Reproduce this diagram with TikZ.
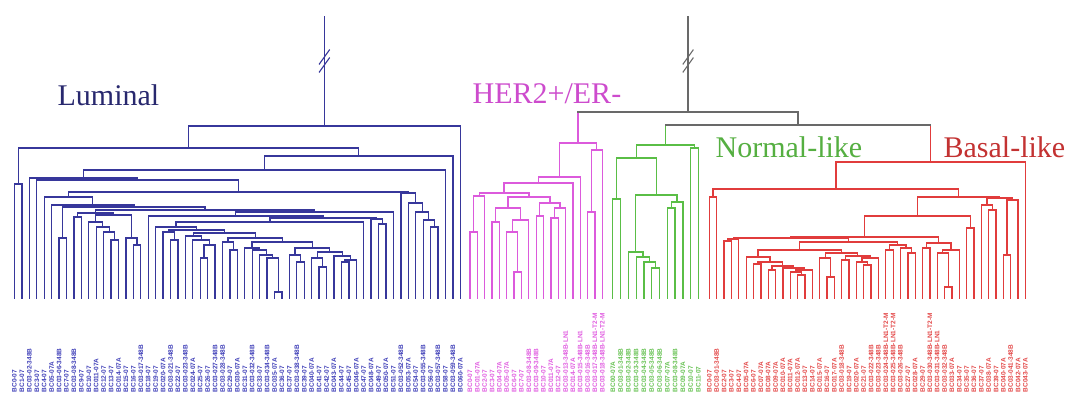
\documentclass[tikz,border=0pt]{standalone}
\usepackage{fontspec}
\setmainfont{Liberation Serif}
\newfontfamily\labfont{Liberation Sans}
\usetikzlibrary{calc}
\definecolor{cblue}{RGB}{55,55,155}
\definecolor{cbluet}{RGB}{40,40,110}
\definecolor{cbluel}{RGB}{65,65,185}
\definecolor{cmag}{RGB}{220,90,220}
\definecolor{cmagt}{RGB}{205,75,205}
\definecolor{cmagl}{RGB}{225,95,225}
\definecolor{cgreen}{RGB}{90,190,70}
\definecolor{cgreent}{RGB}{85,175,65}
\definecolor{cgreenl}{RGB}{105,195,85}
\definecolor{cred}{RGB}{225,60,60}
\definecolor{credt}{RGB}{195,50,50}
\definecolor{credl}{RGB}{228,75,75}
\definecolor{cgray}{RGB}{105,105,105}
\newcommand\mg[4]{%
  \coordinate (hh) at (0,#4);
  \draw (#2) -- (#2 |- hh) -- (#3 |- hh) -- (#3);
  \coordinate (#1) at ($(#2 |- hh)!.5!(#3 |- hh)$);
}
\newcommand\labs[1]{BC#1-07}
\newcommand\labm[1]{BC0#1-07A}
\newcommand\labl[1]{BC03-0#1-348B}
\newcommand\laby[1]{BC03-0#1-348B-LN1}
\newcommand\labx[1]{BC03-0#1-348B-LN1-T2-M}
\tikzset{
  lab/.style={rotate=90, anchor=west, inner sep=0pt, font=\labfont\bfseries\fontsize{6.5}{6.5}\selectfont},
  title/.style={anchor=base west, inner sep=0pt, font=\fontsize{30}{36}\selectfont},
  brk/.style={line width=1.1pt},
}
\begin{document}
\begin{tikzpicture}[x=1pt,y=-1pt,line width=1.3pt,line cap=rect]
\fill[white] (0,0) rectangle (1071,394);
\useasboundingbox (0,0) rectangle (1071,394);
\coordinate (h17) at (0,17);
\coordinate (h112) at (0,112);
\coordinate (h125) at (0,125);
% leaves
\foreach \i in {0,...,60} \coordinate (b\i) at ({14.5+7.43*\i},298);
\foreach \i in {0,...,18} \coordinate (m\i) at ({470+7.35*\i},298);
\foreach \i in {0,...,11} \coordinate (g\i) at ({612.8+7.79*\i},298);
\foreach \i in {0,...,43} \coordinate (r\i) at ({709.4+7.35*\i},298);
% ---------------- Luminal (blue)
\begin{scope}[color=cblue]
\mg{P0}{b0}{b1}{184}
\mg{H1}{b6}{b7}{238}
\mg{K1}{b8}{b9}{217}
\mg{K6b}{b13}{b14}{240}
\mg{K6}{b12}{K6b}{232}
\mg{K5}{b11}{K6}{227}
\mg{K3}{b10}{K5}{222}
\mg{K7}{b16}{b17}{245}
\mg{K4}{b15}{K7}{238}
\mg{K2}{K3}{K4}{215}
\mg{K}{K1}{K2}{213}
\mg{MzL2}{b21}{b22}{240}
\mg{MzL}{b20}{MzL2}{232}
\mg{Ra5}{b25}{b26}{258}
\mg{Ra4}{Ra5}{b27}{245}
\mg{Ra3}{b24}{Ra4}{240}
\mg{Ra1}{b23}{Ra3}{236}
\mg{Rb1b}{b29}{b30}{250}
\mg{Rb1}{b28}{Rb1b}{242}
\mg{Rc6}{b35}{b36}{292}
\mg{Rc5}{b34}{Rc6}{258}
\mg{Rc4}{b33}{Rc5}{255}
\mg{Rc3}{b32}{Rc4}{250}
\mg{Rc1}{b31}{Rc3}{248}
\mg{Rd3}{b38}{b39}{262}
\mg{Rd1}{b37}{Rd3}{255}
\mg{Rd6}{b41}{b42}{267}
\mg{Rd4}{b40}{Rd6}{258}
\mg{Rd8}{b44}{b45}{262}
\mg{Rd7}{Rd8}{b46}{260}
\mg{Rd5}{b43}{Rd7}{256}
\mg{Rd2}{Rd4}{Rd5}{252}
\mg{Rc2}{Rd1}{Rd2}{248}
\mg{Rb2}{Rc1}{Rc2}{242}
\mg{Ra2}{Rb1}{Rb2}{238}
\mg{MzR}{Ra1}{Ra2}{233}
\mg{Mz2}{MzL}{MzR}{230}
\mg{Mz1}{b19}{Mz2}{227}
\mg{Mz}{Mz1}{b47}{222}
\mg{Mq2}{b49}{b50}{224}
\mg{Mq}{b48}{Mq2}{219}
\mg{My}{Mz}{Mq}{218}
\mg{Mx}{b18}{My}{216}
\mg{M}{Mx}{b51}{212}
\mg{H2}{K}{M}{210}
\mg{H}{H1}{H2}{207}
\mg{F}{b5}{H}{205}
\mg{E}{b4}{F}{197}
\mg{Dr4}{b56}{b57}{227}
\mg{Dr3}{b55}{Dr4}{220}
\mg{Dr2}{b54}{Dr3}{212}
\mg{Dr1}{b53}{Dr2}{203}
\mg{Dr}{b52}{Dr1}{193}
\mg{D}{E}{Dr}{192}
\mg{G}{b3}{D}{180}
\mg{C}{b2}{G}{178}
\mg{B}{C}{b58}{170}
\mg{A2}{B}{b59}{156}
\mg{A}{P0}{A2}{148}
\mg{RootB}{A}{b60}{126}
\draw (RootB) -- (RootB |- h17);
\draw[brk] ($(RootB |- 0,57)+(-5,7)$) -- ($(RootB |- 0,57)+(5,-7)$);
\draw[brk] ($(RootB |- 0,65)+(-5,7)$) -- ($(RootB |- 0,65)+(5,-7)$);
\end{scope}
% ---------------- HER2 (magenta)
\begin{scope}[color=cmag]
\mg{Mg7}{m0}{m1}{232}
\mg{Mg5}{Mg7}{m2}{196}
\mg{Mg10}{m3}{m4}{222}
\mg{Mg12}{m6}{m7}{272}
\mg{Mg13}{m5}{Mg12}{232}
\mg{Mg11}{Mg13}{m8}{220}
\mg{Mg8}{Mg10}{Mg11}{208}
\mg{Mg14}{m9}{m10}{216}
\mg{Mg16}{m11}{m12}{218}
\mg{Mg15}{Mg16}{m13}{208}
\mg{Mg9}{Mg14}{Mg15}{203}
\mg{Mg6}{Mg8}{Mg9}{197}
\mg{Mg4}{Mg5}{Mg6}{193}
\mg{Mg3}{Mg4}{m14}{183}
\mg{Mg1}{Mg3}{m15}{177}
\mg{Mg2a}{m16}{m17}{212}
\mg{Mg2}{Mg2a}{m18}{150}
\mg{Mg}{Mg1}{Mg2}{143}
\draw (Mg) -- (Mg |- h112);
\end{scope}
% ---------------- Normal-like (green)
\begin{scope}[color=cgreen]
\mg{Gc}{g0}{g1}{199}
\mg{Gi}{g5}{g6}{268}
\mg{Gh}{g4}{Gi}{262}
\mg{Gg}{g3}{Gh}{257}
\mg{Ge}{g2}{Gg}{252}
\mg{Gj}{g7}{g8}{208}
\mg{Gf}{Gj}{g9}{202}
\mg{Gd}{Ge}{Gf}{195}
\mg{Ga}{Gc}{Gd}{158}
\mg{Gb}{g10}{g11}{148}
\mg{Gr}{Ga}{Gb}{145}
\draw (Gr) -- (Gr |- h125);
\end{scope}
% ---------------- Basal-like (red)
\begin{scope}[color=cred]
\mg{Rp}{r0}{r1}{197}
\mg{RtC1}{r2}{r3}{241}
\mg{RtC}{RtC1}{r4}{239}
\mg{RtG2}{r6}{r7}{264}
\mg{RtG4}{r8}{r9}{270}
\mg{RtG8}{r12}{r13}{275}
\mg{RtG7}{r11}{RtG8}{272}
\mg{RtG6}{RtG7}{r14}{270}
\mg{RtG5}{r10}{RtG6}{268}
\mg{RtG3}{RtG4}{RtG5}{266}
\mg{RtG1}{RtG2}{RtG3}{262}
\mg{RtG}{r5}{RtG1}{257}
\mg{RtH3}{r16}{r17}{277}
\mg{RtH1}{r15}{RtH3}{258}
\mg{RtH4}{r18}{r19}{260}
\mg{RtH7}{r21}{r22}{265}
\mg{RtH6}{r20}{RtH7}{262}
\mg{RtH5}{RtH6}{r23}{258}
\mg{RtH2}{RtH4}{RtH5}{256}
\mg{RtH}{RtH1}{RtH2}{253}
\mg{RtE}{RtG}{RtH}{250}
\mg{RtF1}{r24}{r25}{250}
\mg{RtF3}{r27}{r28}{253}
\mg{RtF2}{r26}{RtF3}{248}
\mg{RtF}{RtF1}{RtF2}{245}
\mg{RtD}{RtE}{RtF}{242}
\mg{RtA}{RtC}{RtD}{238}
\mg{RtB1}{r29}{r30}{248}
\mg{RtB4}{r32}{r33}{287}
\mg{RtB3}{r31}{RtB4}{253}
\mg{RtB2}{RtB3}{r34}{250}
\mg{RtB}{RtB1}{RtB2}{243}
\mg{Rt}{RtA}{RtB}{237}
\mg{Ru}{r35}{r36}{228}
\mg{Rr}{Rt}{Ru}{216}
\mg{Rs1b}{r38}{r39}{210}
\mg{Rs1}{r37}{Rs1b}{205}
\mg{Rs3}{r40}{r41}{255}
\mg{Rs2}{Rs3}{r42}{200}
\mg{Rs}{Rs1}{Rs2}{198}
\mg{Rq}{Rr}{Rs}{197}
\mg{Ra}{Rp}{Rq}{189}
\mg{Red}{Ra}{r43}{162}
\draw (Red) -- (Red |- h125);
\end{scope}
% ---------------- gray upper links
\begin{scope}[color=cgray]
\draw (Gr |- h125) -- (Red |- h125);
\coordinate (GRt) at ($(Gr |- h125)!.5!(Red |- h125)$);
\draw (GRt) -- (GRt |- h112);
\draw (Mg |- h112) -- (GRt |- h112);
\coordinate (Top2) at ($(Mg |- h112)!.5!(GRt |- h112)$);
\draw (Top2) -- (Top2 |- h17);
\draw[brk] ($(Top2 |- 0,57)+(-5,7)$) -- ($(Top2 |- 0,57)+(5,-7)$);
\draw[brk] ($(Top2 |- 0,65)+(-5,7)$) -- ($(Top2 |- 0,65)+(5,-7)$);
\end{scope}
% ---------------- titles
\node[title,text=cbluet] (tLum) at (57,105) {Luminal};
\node[title,text=cmagt] (tHer) at (472,103) {HER2+/ER-};
\node[title,text=cgreent] (tNor) at (715,157) {Normal-like};
\node[title,text=credt] (tBas) at (943,157) {Basal-like};
% ---------------- leaf labels
\foreach \t [count=\i from 0] in {s,s,l,s,s,m,l,s,l,s,s,m,s,s,m,s,s,l,s,s,m,l,s,l,m,s,s,l,l,s,m,s,l,s,l,m,s,s,l,s,m,s,s,m,s,s,m,s,m,s,m,s,l,m,s,l,s,l,s,l,m}
  \node[lab,text=cbluel] (lb\i) at ({14.5+7.43*\i},393) {\csname lab\t\endcsname{\i}};
\foreach \t [count=\i from 0] in {s,m,s,s,m,m,s,s,l,l,s,m,s,y,m,y,l,x,x}
  \node[lab,text=cmagl] (lm\i) at ({470+7.35*\i},393) {\csname lab\t\endcsname{\i}};
\foreach \t [count=\i from 0] in {m,l,l,l,l,l,l,m,l,m,s,s}
  \node[lab,text=cgreenl] (lg\i) at ({612.8+7.79*\i},393) {\csname lab\t\endcsname{\i}};
\foreach \t [count=\i from 0] in {s,l,s,s,s,m,s,m,m,m,m,m,m,s,s,m,s,m,l,s,m,s,l,l,x,x,l,s,m,s,x,y,l,m,s,s,s,s,m,s,m,l,m,m}
  \node[lab,text=credl] (lr\i) at ({709.4+7.35*\i},393) {\csname lab\t\endcsname{\i}};
\end{tikzpicture}
\end{document}
